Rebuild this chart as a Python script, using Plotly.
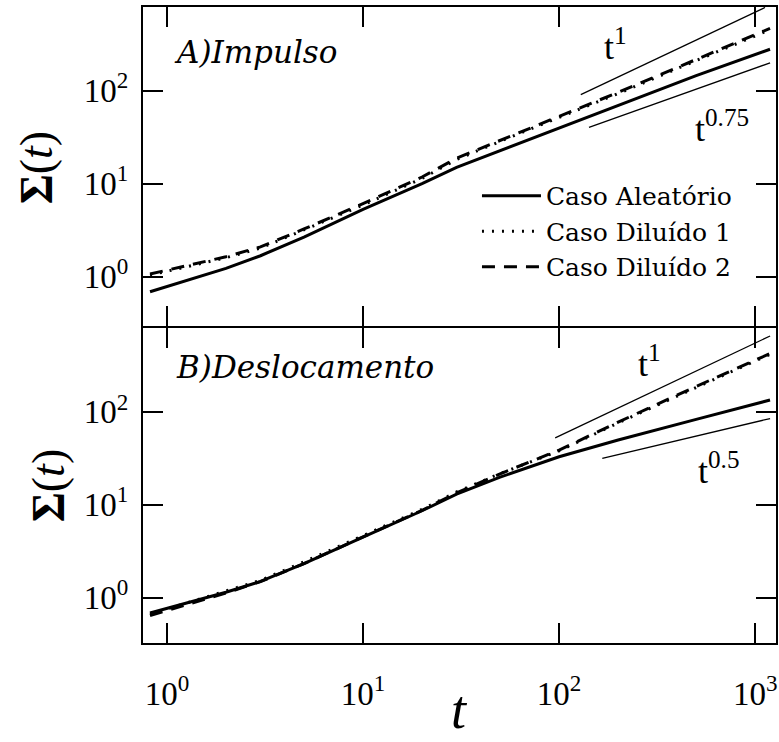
import plotly.graph_objects as go
from plotly.subplots import make_subplots

# ---------------- data ----------------
t = [0.82, 2, 3, 5, 10, 20, 30, 50, 100, 200, 500, 1190]

# A) Impulso
imp_aleatorio = [0.69, 1.23, 1.68, 2.67, 5.3, 10.0, 15.0, 22.7, 39.5, 69.0, 145.0, 279.0]
imp_diluido1 = [1.04, 1.60, 2.03, 3.17, 5.9, 11.4, 18.2, 28.5, 51.5, 93.0, 211.0, 452.0]
imp_diluido2 = [1.07, 1.64, 2.09, 3.26, 6.1, 11.8, 18.8, 29.4, 53.0, 96.0, 218.0, 468.0]

# B) Deslocamento
des_aleatorio = [0.68, 1.14, 1.49, 2.32, 4.47, 8.6, 13.0, 19.8, 32.8, 49.7, 83.0, 134.0]
des_diluido1 = [0.66, 1.17, 1.53, 2.42, 4.65, 8.9, 13.7, 21.6, 38.0, 76.0, 183.0, 416.0]
des_diluido2 = [0.64, 1.12, 1.48, 2.32, 4.5, 8.7, 13.4, 21.5, 38.7, 77.5, 188.0, 424.0]

# reference power laws (endpoints)
ref_imp_t1_t = [129, 1122]
ref_imp_t1_s = [90.6, 785.0]
ref_imp_t075_t = [142, 1191]
ref_imp_t075_s = [40.4, 199.5]
ref_des_t1_t = [95.5, 1191]
ref_des_t1_s = [52.5, 656.0]
ref_des_t05_t = [166, 1191]
ref_des_t05_s = [31.5, 84.7]

xtick_vals = [1, 10, 100, 1000]
xtick_text = ["10<sup>0</sup>", "10<sup>1</sup>", "10<sup>2</sup>", "10<sup>3</sup>"]
ytick_vals = [1, 10, 100]
ytick_text = ["10<sup>0</sup>", "10<sup>1</sup>", "10<sup>2</sup>"]

names = ["Caso Aleatório", "Caso Diluído 1", "Caso Diluído 2"]

FONT = "Liberation Serif, Times New Roman, serif"
WIDE = "DejaVu Serif, serif"

fig = make_subplots(rows=2, cols=1, shared_xaxes=True, vertical_spacing=0)

def add_panel(row, s_al, s_d1, s_d2, showlegend):
    fig.add_trace(go.Scatter(x=t, y=s_al, mode="lines", name=names[0],
                             line=dict(color="black", width=3), legendrank=1,
                             showlegend=showlegend), row=row, col=1)
    fig.add_trace(go.Scatter(x=t, y=s_d2, mode="lines", name=names[2],
                             line=dict(color="black", width=3, dash="13px,9px"),
                             legendrank=3, showlegend=showlegend), row=row, col=1)
    fig.add_trace(go.Scatter(x=t, y=s_d1, mode="lines", name=names[1],
                             line=dict(color="black", width=3, dash="2px,8px"),
                             legendrank=2, showlegend=showlegend), row=row, col=1)

add_panel(1, imp_aleatorio, imp_diluido1, imp_diluido2, True)
add_panel(2, des_aleatorio, des_diluido1, des_diluido2, False)

thin = dict(color="black", width=1.3)
for (xx, yy, r) in [(ref_imp_t1_t, ref_imp_t1_s, 1), (ref_imp_t075_t, ref_imp_t075_s, 1),
                    (ref_des_t1_t, ref_des_t1_s, 2), (ref_des_t05_t, ref_des_t05_s, 2)]:
    fig.add_trace(go.Scatter(x=xx, y=yy, mode="lines", line=thin, showlegend=False,
                             hoverinfo="skip"), row=r, col=1)

axis_common = dict(type="log", showline=True, linecolor="black", linewidth=2,
                   mirror="ticks", ticks="inside", ticklen=20, tickwidth=1.5,
                   tickcolor="black", showgrid=False, zeroline=False,
                   tickfont=dict(family=FONT, size=33, color="black"))

fig.update_xaxes(**axis_common, range=[-0.122, 3.106], tickvals=xtick_vals,
                 ticktext=xtick_text)
fig.update_xaxes(showticklabels=False, row=1, col=1)
fig.update_xaxes(ticklabelstandoff=20, row=2, col=1)
fig.update_yaxes(**axis_common, tickvals=ytick_vals, ticktext=ytick_text,
                 ticklabelstandoff=6)
fig.update_yaxes(range=[-0.53, 2.90], row=1, col=1)
fig.update_yaxes(range=[-0.49, 2.903], row=2, col=1)

H, W = 742, 779
ml, mr, mt, mb = 143, 1, 7, 99
fig.update_layout(
    width=W, height=H,
    margin=dict(l=ml, r=mr, t=mt, b=mb),
    plot_bgcolor="white", paper_bgcolor="white",
    font=dict(family=FONT, color="black"),
    showlegend=True,
    legend=dict(x=0.5276, y=0.739, xanchor="left", yanchor="top",
                bgcolor="rgba(0,0,0,0)", borderwidth=0,
                font=dict(family=WIDE, size=25, color="black"),
                itemwidth=59, tracegroupgap=0),
)
fig.layout.yaxis.domain = [317 / 636, 1]
fig.layout.yaxis2.domain = [0, 315 / 636]

pw, ph = W - ml - mr, H - mt - mb
def px(x):
    return (x - ml) / pw
def py(y):
    return 1 - (y - mt) / ph

ann = []
def add_text(text, x, y, size, xanchor="left", angle=0, yanchor="middle", fam=FONT):
    ann.append(dict(text=text, x=px(x), y=py(y), xref="paper", yref="paper",
                    xanchor=xanchor, yanchor=yanchor, showarrow=False,
                    textangle=angle, font=dict(family=fam, size=size, color="black")))

add_text("<i>A)Impulso</i>", 172, 52, 31, fam=WIDE)
add_text("<i>B)Deslocamento</i>", 174, 367, 31, fam=WIDE)
add_text("t<sup>1</sup>", 617, 45, 36, xanchor="center")
add_text("t<sup>0.75</sup>", 724, 127, 36, xanchor="center")
add_text("t<sup>1</sup>", 651, 361, 36, xanchor="center")
add_text("t<sup>0.5</sup>", 721, 469, 36, xanchor="center")
add_text("<b>Σ</b>(<i>t</i>)", 37, 167, 46, xanchor="center", angle=-90)
add_text("<b>Σ</b>(<i>t</i>)", 48, 485, 46, xanchor="center", angle=-90)
add_text("<i>t</i>", 461, 742, 54, xanchor="center", yanchor="bottom")
fig.update_layout(annotations=ann)

fig.write_html("out.html")
